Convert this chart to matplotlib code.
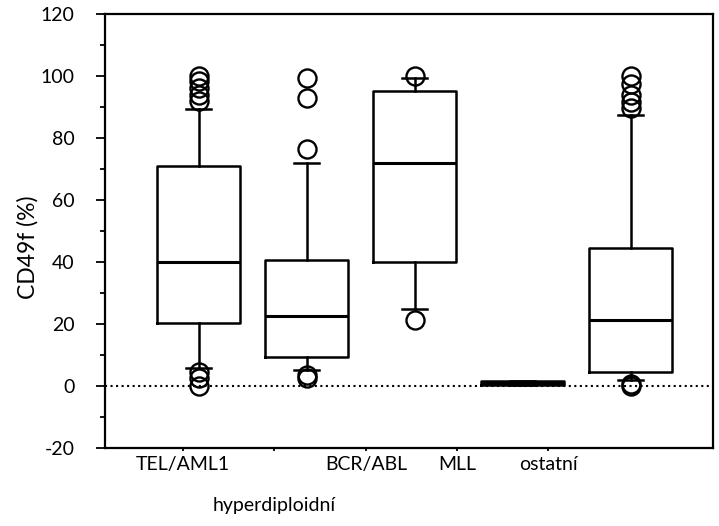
import matplotlib
matplotlib.use("Agg")
import matplotlib.pyplot as plt
from matplotlib.ticker import MultipleLocator

plt.rcParams['font.family'] = ['Lato', 'DejaVu Sans']
plt.rcParams['axes.unicode_minus'] = False

# box statistics per group (CD49f %)
groups = ["TEL/AML1", "hyperdiploidní", "BCR/ABL", "MLL", "ostatní"]
q1 = [20.3, 9.4, 40.0, 0.3, 4.5]
median = [40.0, 22.6, 72.0, 0.9, 21.3]
q3 = [71.0, 40.6, 95.3, 1.6, 44.5]
whisker_lo = [5.8, 5.2, 24.8, 0.3, 2.0]
whisker_hi = [89.4, 72.0, 99.3, 1.6, 87.4]
outliers = [
    [100, 98.5, 96, 94, 92, 4.5, 2.5, 0],
    [99.5, 93, 76.5, 3.5, 2.5],
    [100, 21.3],
    [],
    [100, 97.5, 94, 91.7, 89.6, 0.5, 0],
]
label_pos = [0.856, 1.699, 2.551, 3.394, 4.236]

stats = []
for i, name in enumerate(groups):
    stats.append(dict(label=name, q1=q1[i], med=median[i], q3=q3[i],
                      whislo=whisker_lo[i], whishi=whisker_hi[i],
                      fliers=outliers[i]))

fig = plt.figure(figsize=(7.19, 5.26), dpi=100)
ax = fig.add_axes([0.146, 0.1483, 0.8457, 0.8251])

lw = 1.8
ax.axhline(0, color='black', linestyle=':', linewidth=1.5, zorder=1)
bp = ax.bxp(stats, positions=[1, 2, 3, 4, 5], widths=0.77, capwidths=0.23,
            boxprops=dict(color='black', linewidth=lw),
            whiskerprops=dict(color='black', linewidth=lw),
            capprops=dict(color='black', linewidth=lw),
            medianprops=dict(color='black', linewidth=2.2),
            flierprops=dict(marker='o', markersize=13, markerfacecolor='none',
                            markeredgecolor='black', markeredgewidth=1.7),
            patch_artist=False)

ax.set_xlim(0.134, 5.764)
ax.set_ylim(-20, 120)
ax.yaxis.set_major_locator(MultipleLocator(20))
ax.yaxis.set_minor_locator(MultipleLocator(10))
ax.tick_params(axis='y', which='major', direction='out', length=6.5, width=1.3,
               pad=15.5, labelsize=14)
ax.tick_params(axis='y', which='minor', direction='out', length=3.5, width=1.3)
ax.tick_params(axis='x', direction='out', length=2.5, width=1.3, pad=3,
               labelsize=14)

ax.set_xticks(label_pos)
ax.set_xticklabels(groups)
ax.xaxis.get_major_ticks()[1].set_pad(33)

for s in ax.spines.values():
    s.set_linewidth(1.6)

ax.set_ylabel("CD49f (%)", fontsize=16.5)
ax.yaxis.set_label_coords(-0.11, 0.462)

fig.savefig("out.png", dpi=100)
